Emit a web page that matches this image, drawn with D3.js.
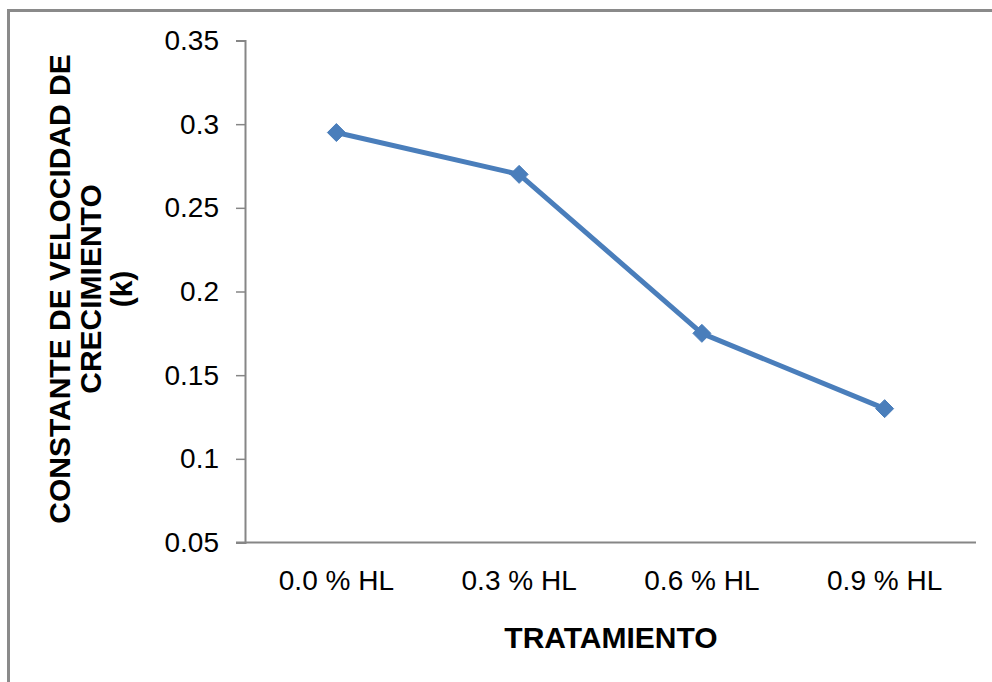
<!DOCTYPE html>
<html>
<head>
<meta charset="utf-8">
<script src="https://cdn.jsdelivr.net/npm/d3@7"></script>
<style>
  html, body { margin: 0; padding: 0; background: #fff; }
  svg { display: block; font-family: "Liberation Sans", Arial, sans-serif; }
</style>
</head>
<body>
<svg id="chart" width="992" height="682"></svg>
<script>
// Growth-rate constant per treatment
const categories = ["0.0 % HL", "0.3 % HL", "0.6 % HL", "0.9 % HL"];
const kValues = [0.295, 0.27, 0.175, 0.13];
const yTicks = [0.05, 0.1, 0.15, 0.2, 0.25, 0.3, 0.35];
const yTickLabels = ["0.05", "0.1", "0.15", "0.2", "0.25", "0.3", "0.35"];
const yTitleLines = ["CONSTANTE DE VELOCIDAD DE", "CRECIMIENTO", "(k)"];
const xTitle = "TRATAMIENTO";

const svg = d3.select("#chart");
const plotLeft = 245, plotRight = 976, plotTop = 40.5, plotBottom = 542.5;
const axisColor = "#868686";
const lineColor = "#4A7EBB";

// outer frame (continues past the right and bottom edges)
svg.append("rect")
  .attr("x", 8.5).attr("y", 10.5)
  .attr("width", 1100).attr("height", 800)
  .attr("fill", "none").attr("stroke", "#8a8a8a").attr("stroke-width", 3);

const x = d3.scaleBand().domain(categories).range([plotLeft, plotRight]);
const y = d3.scaleLinear().domain([0.05, 0.35]).range([plotBottom, plotTop]);

// y axis
const yAxis = svg.append("g")
  .attr("transform", `translate(${plotLeft},0)`)
  .call(d3.axisLeft(y).tickValues(yTicks)
    .tickFormat((d, i) => yTickLabels[i]).tickSize(9).tickPadding(17));
yAxis.select(".domain").attr("stroke", axisColor).attr("stroke-width", 2);
yAxis.selectAll(".tick line").attr("stroke", axisColor).attr("stroke-width", 1.5);
yAxis.selectAll(".tick text")
  .attr("font-size", 28).attr("fill", "#000")
  .attr("font-family", "'Liberation Sans', Arial, sans-serif");

// x axis
const xAxis = svg.append("g")
  .attr("transform", `translate(0,${plotBottom})`)
  .call(d3.axisBottom(x).tickSize(0).tickPadding(28));
xAxis.select(".domain").attr("stroke", axisColor).attr("stroke-width", 2)
  .attr("d", `M${plotLeft - 9},0H${plotRight}`);
xAxis.selectAll(".tick text")
  .attr("font-size", 28).attr("fill", "#000")
  .attr("font-family", "'Liberation Sans', Arial, sans-serif");

// series line
const pts = categories.map((c, i) => [x(c) + x.bandwidth() / 2, y(kValues[i])]);
svg.append("path")
  .attr("d", d3.line()(pts))
  .attr("fill", "none").attr("stroke", lineColor)
  .attr("stroke-width", 5).attr("stroke-linejoin", "round");

// diamond markers
svg.append("g").selectAll("path")
  .data(pts).join("path")
  .attr("transform", d => `translate(${d[0]},${d[1]})`)
  .attr("d", "M0,-9L9,0L0,9L-9,0Z")
  .attr("fill", lineColor).attr("stroke", lineColor).attr("stroke-width", 1);

// x axis title
svg.append("text")
  .attr("x", 611).attr("y", 648)
  .attr("text-anchor", "middle")
  .attr("font-size", 30).attr("font-weight", "bold").attr("fill", "#000")
  .text(xTitle);

// y axis title (three rotated lines)
const yTitle = svg.append("g").attr("transform", "translate(0,289) rotate(-90)");
yTitleLines.forEach((t, i) => {
  yTitle.append("text")
    .attr("x", 0).attr("y", 70 + i * 31)
    .attr("text-anchor", "middle")
    .attr("font-size", 30).attr("font-weight", "bold").attr("fill", "#000")
    .text(t);
});
</script>
</body>
</html>
